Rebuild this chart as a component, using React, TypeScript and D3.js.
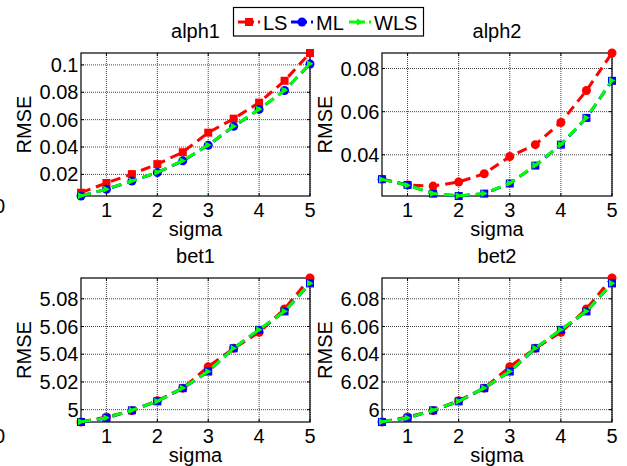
import * as d3 from 'd3';

// sigma values on the x axis
const sigma = [0.5, 1, 1.5, 2, 2.5, 3, 3.5, 4, 4.5, 5];
const xTicks = [1, 2, 3, 4, 5];

const alph1LS = [0.0066, 0.0137, 0.0202, 0.0275, 0.0362, 0.0505, 0.0607, 0.0724, 0.0884, 0.1087];
const alph1ML = [0.0042, 0.0091, 0.0151, 0.0214, 0.0299, 0.0413, 0.0551, 0.0675, 0.0813, 0.1007];
const alph1WLS = [0.0043, 0.0092, 0.0152, 0.0215, 0.03, 0.0414, 0.0552, 0.0676, 0.0814, 0.1008];

const alph2LS = [0.0287, 0.026, 0.0255, 0.0274, 0.0312, 0.0392, 0.0447, 0.055, 0.0698, 0.0872];
const alph2ML = [0.0287, 0.026, 0.022, 0.0209, 0.022, 0.0267, 0.035, 0.0447, 0.0571, 0.0743];
const alph2WLS = [0.0286, 0.0259, 0.0221, 0.021, 0.0221, 0.0268, 0.0351, 0.0448, 0.0572, 0.0744];

const bet1LS = [4.9911, 4.9947, 4.9993, 5.0065, 5.0155, 5.031, 5.0443, 5.0558, 5.0727, 5.095];
const bet1ML = [4.9911, 4.994, 4.9995, 5.006, 5.0155, 5.0275, 5.0443, 5.0576, 5.0709, 5.0911];
const bet1WLS = [4.9912, 4.9941, 4.9996, 5.0061, 5.0156, 5.0276, 5.0444, 5.0577, 5.071, 5.0912];

const bet2LS = [5.9911, 5.9947, 5.9993, 6.0065, 6.0155, 6.031, 6.0443, 6.0558, 6.0727, 6.095];
const bet2ML = [5.9911, 5.994, 5.9995, 6.006, 6.0155, 6.0275, 6.0443, 6.0576, 6.0709, 6.0911];
const bet2WLS = [5.9912, 5.9941, 5.9996, 6.0061, 6.0156, 6.0276, 6.0444, 6.0577, 6.071, 6.0912];

const alph1Ticks = [0.02, 0.04, 0.06, 0.08, 0.1];
const alph2Ticks = [0.04, 0.06, 0.08];
const bet1Ticks = [5, 5.02, 5.04, 5.06, 5.08];
const bet2Ticks = [6, 6.02, 6.04, 6.06, 6.08];

const FONT = '"Liberation Sans", Arial, sans-serif';
const RED = '#ff0000';
const BLUE = '#0000ff';
const GREEN = '#00ff00';

type Marker = 'square' | 'circle' | 'tri';

const panels = [
  { title: 'alph1', ls: alph1LS, ml: alph1ML, wls: alph1WLS, ticks: alph1Ticks, lsM: 'square', mlM: 'circle', x0: 81, x1: 310, y0: 53, y1: 196 },
  { title: 'alph2', ls: alph2LS, ml: alph2ML, wls: alph2WLS, ticks: alph2Ticks, lsM: 'circle', mlM: 'square', x0: 382, x1: 612, y0: 53, y1: 196 },
  { title: 'bet1', ls: bet1LS, ml: bet1ML, wls: bet1WLS, ticks: bet1Ticks, lsM: 'circle', mlM: 'square', x0: 81, x1: 310, y0: 278, y1: 422 },
  { title: 'bet2', ls: bet2LS, ml: bet2ML, wls: bet2WLS, ticks: bet2Ticks, lsM: 'circle', mlM: 'square', x0: 382, x1: 612, y0: 278, y1: 422 },
];

const drawMarker = (kind: Marker, x: number, y: number, color: string, key: string) => {
  if (kind === 'square') return <rect key={key} x={x - 4} y={y - 4} width={8} height={8} fill={color} />;
  if (kind === 'circle') return <circle key={key} cx={x} cy={y} r={4.5} fill={color} />;
  return <path key={key} d={`M${x - 3},${y - 3.5}L${x + 3.5},${y}L${x - 3},${y + 3.5}Z`} fill={color} />;
};

const Panel = ({ p }: { p: any }) => {
  const x = d3.scaleLinear().domain([0.5, 5]).range([p.x0, p.x1]);
  const ext = d3.extent([...p.ls, ...p.ml, ...p.wls]) as [number, number];
  const y = d3.scaleLinear().domain(ext).range([p.y1, p.y0]);
  const line = d3
    .line<number>()
    .x((_, i) => x(sigma[i]))
    .y((d) => y(d));
  const series = [
    { vals: p.ls, color: RED, m: p.lsM },
    { vals: p.ml, color: BLUE, m: p.mlM },
    { vals: p.wls, color: GREEN, m: 'tri' },
  ];
  const fmt = (v: number) => String(+v.toFixed(2));
  const cx = (p.x0 + p.x1) / 2;
  const cy = (p.y0 + p.y1) / 2;
  return (
    <g>
      <rect x={p.x0} y={p.y0} width={p.x1 - p.x0} height={p.y1 - p.y0} fill="#fff" />
      {xTicks.map((t) => (
        <line key={'gx' + t} x1={x(t)} x2={x(t)} y1={p.y0} y2={p.y1} stroke="#444" strokeDasharray="1 1" />
      ))}
      {p.ticks.map((t: number) => (
        <line key={'gy' + t} x1={p.x0} x2={p.x1} y1={y(t)} y2={y(t)} stroke="#444" strokeDasharray="1 1" />
      ))}
      {xTicks.map((t) => (
        <g key={'tx' + t}>
          <line x1={x(t)} x2={x(t)} y1={p.y1} y2={p.y1 - 3} stroke="#000" />
          <line x1={x(t)} x2={x(t)} y1={p.y0} y2={p.y0 + 3} stroke="#000" />
          <text x={x(t)} y={p.y1 + 21} textAnchor="middle" fontSize={20} fontFamily={FONT}>
            {t}
          </text>
        </g>
      ))}
      {p.ticks.map((t: number) => (
        <g key={'ty' + t}>
          <line x1={p.x0} x2={p.x0 + 3} y1={y(t)} y2={y(t)} stroke="#000" />
          <line x1={p.x1} x2={p.x1 - 3} y1={y(t)} y2={y(t)} stroke="#000" />
          <text x={p.x0 - 2.5} y={y(t) + 7} textAnchor="end" fontSize={20} fontFamily={FONT}>
            {fmt(t)}
          </text>
        </g>
      ))}
      <rect x={p.x0} y={p.y0} width={p.x1 - p.x0} height={p.y1 - p.y0} fill="none" stroke="#000" strokeWidth={1.2} />
      {series.map((s, si) => (
        <g key={'s' + si}>
          <path d={line(s.vals) || ''} fill="none" stroke={s.color} strokeWidth={3} strokeDasharray="10 6" />
          {s.vals.map((v: number, i: number) => drawMarker(s.m, x(sigma[i]), y(v), s.color, 'm' + si + i))}
        </g>
      ))}
      <text x={cx} y={p.y0 - 15} textAnchor="middle" fontSize={20} fontFamily={FONT}>
        {p.title}
      </text>
      <text x={cx} y={p.y1 + 40} textAnchor="middle" fontSize={20} fontFamily={FONT}>
        sigma
      </text>
      <text
        transform={`translate(${p.x0 - 50.5},${cy}) rotate(-90)`}
        textAnchor="middle"
        fontSize={20}
        fontFamily={FONT}
      >
        RMSE
      </text>
    </g>
  );
};

const legendItems = [
  { name: 'LS', color: RED, m: 'square', x: 238 },
  { name: 'ML', color: BLUE, m: 'circle', x: 291 },
  { name: 'WLS', color: GREEN, m: 'tri', x: 349 },
];

export default function App() {
  return (
    <svg width={627} height={466} style={{ position: 'fixed', left: 0, top: 0, background: '#fff' }}>
      <rect width={627} height={466} fill="#fff" />
      {panels.map((p) => (
        <Panel key={p.title} p={p} />
      ))}
      <text x={5} y={213} textAnchor="end" fontSize={20} fontFamily={FONT}>0</text>
      <text x={5} y={443} textAnchor="end" fontSize={20} fontFamily={FONT}>0</text>
      <rect x={233.5} y={7.5} width={190} height={28.5} fill="#fff" stroke="#000" strokeWidth={1.2} />
      {legendItems.map((it) => (
        <g key={it.name}>
          <line x1={it.x} x2={it.x + 22} y1={22} y2={22} stroke={it.color} strokeWidth={3} strokeDasharray="16 4 2 4" />
          {drawMarker(it.m as Marker, it.x + 11, 22, it.color, 'lm' + it.name)}
          <text x={it.x + 25} y={29.5} fontSize={20} fontFamily={FONT}>
            {it.name}
          </text>
        </g>
      ))}
    </svg>
  );
}
